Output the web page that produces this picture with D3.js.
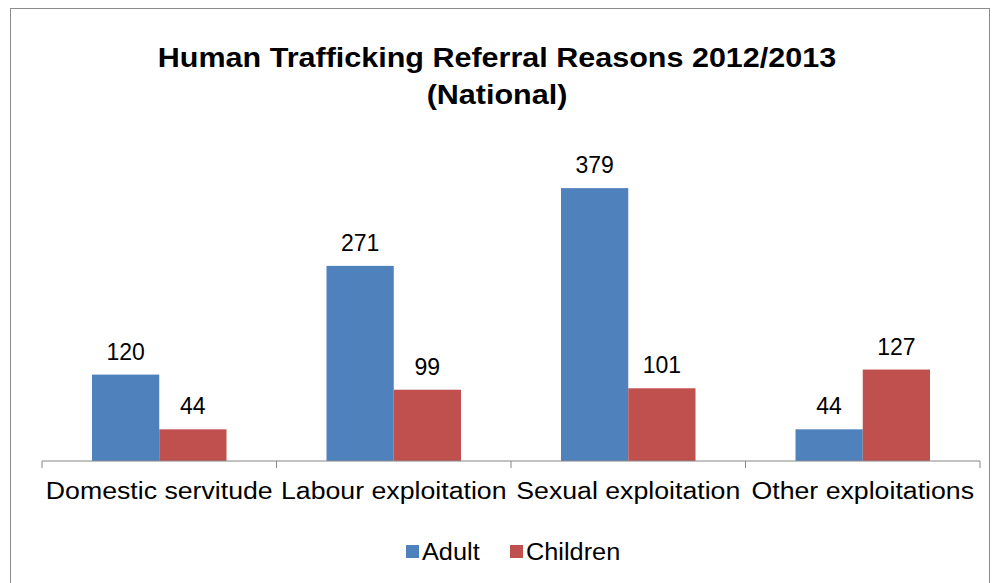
<!DOCTYPE html>
<html><head><meta charset="utf-8">
<script src="https://cdn.jsdelivr.net/npm/d3@7"></script>
<style>body{margin:0;background:#fff}</style></head>
<body><svg id="c" width="997" height="583"></svg>
<script>
const categories = ["Domestic servitude", "Labour exploitation", "Sexual exploitation", "Other exploitations"];
const seriesNames = ["Adult", "Children"];
const adult = [120, 271, 379, 44];
const children = [44, 99, 101, 127];
const colors = ["#4F81BD", "#C0504D"];

const svg = d3.select("#c");
const font = "Liberation Sans, Arial, sans-serif";
// stretch text horizontally a bit, the reference renders wider
const widen = (sel, f) => sel.each(function () {
  const w = this.getComputedTextLength();
  d3.select(this).attr("textLength", w * f).attr("lengthAdjust", "spacingAndGlyphs");
});

svg.append("rect").attr("x", 10.5).attr("y", 8.5).attr("width", 979).attr("height", 580)
  .attr("fill", "#fff").attr("stroke", "#8c8c8c");

svg.append("text").attr("x", 497).attr("y", 67).attr("text-anchor", "middle")
  .style("font", `bold 27px ${font}`).text("Human Trafficking Referral Reasons 2012/2013").call(widen, 1.13);
svg.append("text").attr("x", 497).attr("y", 104).attr("text-anchor", "middle")
  .style("font", `bold 27px ${font}`).text("(National)").call(widen, 1.13);

const x0 = d3.scaleBand().domain(categories).range([42, 980]);
const x1 = d3.scaleBand().domain(seriesNames).range([50, x0.bandwidth() - 50]);
const y = d3.scaleLinear().domain([0, 400]).range([461, 173]);

const data = [adult, children];
categories.forEach((c, i) => {
  seriesNames.forEach((s, k) => {
    const v = data[k][i], bx = x0(c) + x1(s);
    svg.append("rect").attr("x", bx).attr("y", y(v)).attr("width", x1.bandwidth())
      .attr("height", y(0) - y(v)).attr("fill", colors[k]);
    svg.append("text").attr("x", bx + x1.bandwidth() / 2).attr("y", y(v) - 15)
      .attr("text-anchor", "middle").style("font", `23px ${font}`).text(v);
  });
});

const ax = svg.append("g").attr("transform", "translate(0,461)")
  .call(d3.axisBottom(x0).tickSize(0).tickPadding(22));
ax.select(".domain").attr("stroke", "#868686").attr("d", "M42,0H980");
ax.selectAll("text").style("font", `23px ${font}`).attr("fill", "#000").call(widen, 1.16);
[...categories.map(c => x0(c)), 980].forEach(t =>
  svg.append("line").attr("x1", t).attr("x2", t).attr("y1", 461).attr("y2", 468).attr("stroke", "#868686"));

const leg = [[406, 0], [510, 1]];
leg.forEach(([lx, k]) => {
  svg.append("rect").attr("x", lx).attr("y", 545).attr("width", 13).attr("height", 13).attr("fill", colors[k]);
  svg.append("text").attr("x", lx + 16).attr("y", 560).style("font", `23px ${font}`).text(seriesNames[k]).call(widen, 1.1);
});
</script></body></html>
